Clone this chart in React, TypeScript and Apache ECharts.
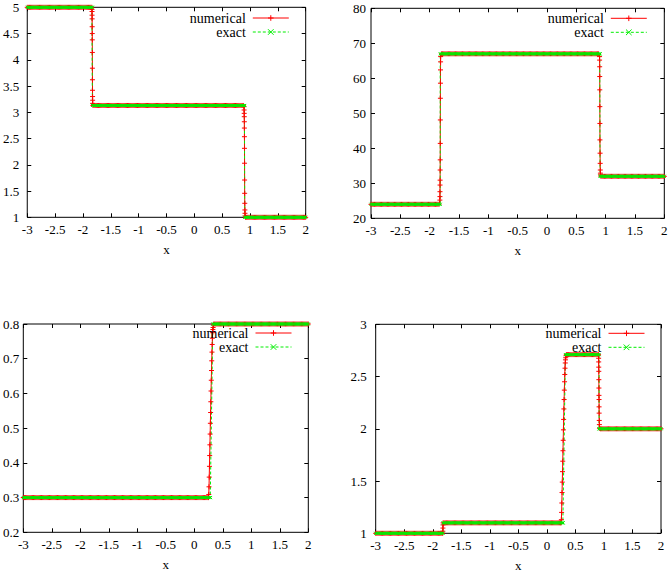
import React, { useEffect, useRef } from "react";
import * as echarts from "echarts";

type Pt = [number, number];

// ---------- axis ranges ----------
const X_MIN = -3;
const X_MAX = 2;
const X_STEP = 0.5;
const MARKER_SPACING = 0.02; // spacing of the plotted mesh markers on the flat states

const Y_MIN = [1, 20, 0.2, 1];
const Y_MAX = [5, 80, 0.8, 3];
const Y_STEP = [0.5, 10, 0.1, 0.5];

const SERIES_NAMES = ["numerical", "exact"];
const AXIS_NAME = "x";

// ---------- panel 1 ----------
const p1States = [5, 3.13, 1];
const p1NumFronts: Pt[][] = [
  [
    [-1.838, 4.96], [-1.837, 4.92], [-1.836, 4.85], [-1.835, 4.78], [-1.834, 4.63],
    [-1.833, 4.5], [-1.832, 4.38], [-1.831, 4.14], [-1.83, 3.84], [-1.829, 3.62],
    [-1.828, 3.42], [-1.827, 3.3], [-1.826, 3.23], [-1.825, 3.17],
  ],
  [
    [0.892, 3.107], [0.894, 3.044], [0.896, 2.98], [0.897, 2.916], [0.898, 2.82],
    [0.899, 2.7], [0.9, 2.535], [0.901, 2.314], [0.902, 2.03], [0.903, 1.71],
    [0.904, 1.457], [0.906, 1.267], [0.908, 1.14], [0.91, 1.076], [0.912, 1.025],
  ],
];
const p1ExactFronts: Pt[][] = [
  [[-1.83, 5], [-1.83, 3.13]],
  [[0.905, 3.13], [0.905, 1]],
];

// ---------- panel 2 ----------
const p2States = [24, 67, 32];
const p2NumFronts: Pt[][] = [
  [
    [-1.826, 25.2], [-1.825, 26.2], [-1.824, 27.6], [-1.823, 29.5], [-1.822, 30.9],
    [-1.821, 33.8], [-1.82, 36.7], [-1.819, 41.4], [-1.818, 48.1], [-1.817, 54.3],
    [-1.816, 58.6], [-1.815, 62.4], [-1.814, 64.7], [-1.813, 66.2],
  ],
  [
    [0.896, 66.2], [0.897, 65.2], [0.898, 63.3], [0.899, 60.5], [0.9, 56.7],
    [0.901, 51.9], [0.902, 47.1], [0.903, 42.4], [0.905, 38.6], [0.907, 35.7],
    [0.909, 33.8], [0.911, 32.9], [0.913, 32.4],
  ],
];
const p2ExactFronts: Pt[][] = [
  [[-1.82, 24], [-1.82, 67]],
  [[0.905, 67], [0.905, 32]],
];

// ---------- panel 3 ----------
const p3States = [0.3, 0.8];
const p3NumFronts: Pt[][] = [
  [
    [0.25, 0.3], [0.254, 0.309], [0.258, 0.331], [0.262, 0.359], [0.266, 0.39],
    [0.27, 0.421], [0.274, 0.452], [0.278, 0.483], [0.282, 0.514], [0.286, 0.545],
    [0.29, 0.576], [0.294, 0.607], [0.298, 0.638], [0.302, 0.666], [0.306, 0.694],
    [0.31, 0.719], [0.314, 0.741], [0.318, 0.759], [0.322, 0.775], [0.326, 0.784],
    [0.33, 0.79], [0.336, 0.797], [0.342, 0.8],
  ],
];
const p3ExactFronts: Pt[][] = [
  [[0.285, 0.3], [0.325, 0.8]],
];

// ---------- panel 4 ----------
const p4States = [1, 1.1, 2.71, 2];
const p4NumFronts: Pt[][] = [
  [[-1.826, 1.0], [-1.824, 1.02], [-1.822, 1.05], [-1.82, 1.08], [-1.818, 1.1]],
  [
    [0.25, 1.1], [0.254, 1.13], [0.258, 1.2], [0.262, 1.29], [0.266, 1.39],
    [0.27, 1.49], [0.274, 1.59], [0.278, 1.69], [0.282, 1.79], [0.286, 1.89],
    [0.29, 1.99], [0.294, 2.09], [0.298, 2.19], [0.302, 2.28], [0.306, 2.37],
    [0.31, 2.45], [0.314, 2.52], [0.318, 2.58], [0.322, 2.63], [0.326, 2.66],
    [0.33, 2.68], [0.336, 2.7], [0.342, 2.71],
  ],
  [
    [0.906, 2.706], [0.907, 2.675], [0.908, 2.64], [0.909, 2.59], [0.91, 2.55],
    [0.911, 2.47], [0.912, 2.39], [0.913, 2.32], [0.914, 2.28], [0.915, 2.21],
    [0.916, 2.15], [0.918, 2.08], [0.92, 2.04], [0.922, 2.005],
  ],
];
const p4ExactFronts: Pt[][] = [
  [[-1.82, 1], [-1.82, 1.1]],
  [[0.285, 1.1], [0.325, 2.71]],
  [[0.915, 2.71], [0.915, 2]],
];

const PANELS = [
  { states: p1States, num: p1NumFronts, exact: p1ExactFronts },
  { states: p2States, num: p2NumFronts, exact: p2ExactFronts },
  { states: p3States, num: p3NumFronts, exact: p3ExactFronts },
  { states: p4States, num: p4NumFronts, exact: p4ExactFronts },
];

// ---------- layout ----------
const GRIDS = [
  { left: 20.7, top: 7.3, width: 285, height: 210 },
  { left: 371, top: 8.3, width: 293.3, height: 210 },
  { left: 23.3, top: 324, width: 285, height: 208.3 },
  { left: 375.7, top: 324.3, width: 285.3, height: 209 },
];
const Y_LABEL_MARGIN = [8, 5, 4, 9];
const LEGEND_POS = [
  { right: 382.7, top: 11 },
  { right: 24.7, top: 11.3 },
  { right: 380, top: 326 },
  { right: 27, top: 326.3 },
];

const FONT = "Liberation Serif";
const RED = "#ff0000";
const GREEN = "#00ee00";
const PLUS = "path://M0,2.5L5,2.5M2.5,0L2.5,5";
const CROSS = "path://M0,0L5,5M5,0L0,5";

const meshX: number[] = [];
for (let k = 0; k <= Math.round((X_MAX - X_MIN) / MARKER_SPACING); k++) {
  meshX.push(+(X_MIN + k * MARKER_SPACING).toFixed(4));
}

function buildProfile(states: number[], fronts: Pt[][]): Pt[] {
  const out: Pt[] = [];
  states.forEach((v, i) => {
    const lo = i === 0 ? -Infinity : fronts[i - 1][fronts[i - 1].length - 1][0];
    const hi = i === states.length - 1 ? Infinity : fronts[i][0][0];
    meshX.forEach((x) => {
      if (x > lo && x < hi) out.push([x, v]);
    });
    if (i < fronts.length) fronts[i].forEach((p) => out.push(p));
  });
  return out;
}

const fmt = (v: number) => String(parseFloat(v.toFixed(3)));

function buildOption() {
  const grid: any[] = [];
  const xAxis: any[] = [];
  const yAxis: any[] = [];
  const series: any[] = [];
  const legend: any[] = [];

  GRIDS.forEach((g, i) => {
    grid.push({ ...g, show: true, borderColor: "#000", borderWidth: 1, backgroundColor: "transparent" });
    const tick = { show: true, inside: true, length: 4, lineStyle: { color: "#000", width: 1 } };
    const line = { show: false, onZero: false };
    xAxis.push({
      type: "value", gridIndex: i, position: "bottom",
      min: X_MIN, max: X_MAX, interval: X_STEP,
      name: AXIS_NAME, nameLocation: "middle", nameGap: 26,
      nameTextStyle: { fontFamily: FONT, fontSize: 13, color: "#000" },
      axisLine: line, axisTick: tick, splitLine: { show: false },
      axisLabel: { margin: 6, fontFamily: FONT, fontSize: 13, color: "#000", formatter: fmt },
    });
    xAxis.push({
      type: "value", gridIndex: i, position: "top",
      min: X_MIN, max: X_MAX, interval: X_STEP,
      axisLine: line, axisTick: tick, splitLine: { show: false },
      axisLabel: { show: false },
    });
    yAxis.push({
      type: "value", gridIndex: i, position: "left",
      min: Y_MIN[i], max: Y_MAX[i], interval: Y_STEP[i],
      axisLine: line, axisTick: tick, splitLine: { show: false },
      axisLabel: { margin: Y_LABEL_MARGIN[i], fontFamily: FONT, fontSize: 13, color: "#000", formatter: fmt },
    });
    yAxis.push({
      type: "value", gridIndex: i, position: "right",
      min: Y_MIN[i], max: Y_MAX[i], interval: Y_STEP[i],
      axisLine: line, axisTick: tick, splitLine: { show: false },
      axisLabel: { show: false },
    });

    const p = PANELS[i];
    series.push({
      type: "line", name: SERIES_NAMES[0], xAxisIndex: 2 * i, yAxisIndex: 2 * i,
      data: buildProfile(p.states, p.num), clip: false,
      symbol: PLUS, symbolSize: 5, showSymbol: true,
      lineStyle: { color: RED, width: 1 },
      itemStyle: { color: RED, borderColor: RED, borderWidth: 1 },
      emphasis: { disabled: true },
    });
    series.push({
      type: "line", name: SERIES_NAMES[1], xAxisIndex: 2 * i, yAxisIndex: 2 * i,
      data: buildProfile(p.states, p.exact), clip: false,
      symbol: CROSS, symbolSize: 3, showSymbol: true,
      lineStyle: { color: GREEN, width: 1, type: [3, 2] },
      itemStyle: { color: GREEN, borderColor: GREEN, borderWidth: 1 },
      emphasis: { disabled: true },
    });

    legend.push({
      orient: "vertical", align: "right", ...LEGEND_POS[i],
      itemWidth: 36, itemHeight: 7, itemGap: 0, padding: 0,
      selectedMode: false,
      data: SERIES_NAMES,
      textStyle: { fontFamily: FONT, fontSize: 14, color: "#000", lineHeight: 14, padding: [0, 2, 0, 0] },
      lineStyle: { width: 1 },
      itemStyle: { borderWidth: 1 },
    });
  });

  return {
    animation: false,
    backgroundColor: "#fff",
    grid, xAxis, yAxis, series, legend,
  };
}

export default function App() {
  const ref = useRef<HTMLDivElement>(null);
  useEffect(() => {
    if (!ref.current) return;
    const chart = echarts.init(ref.current, undefined, { renderer: "svg" });
    chart.setOption(buildOption() as any);
    return () => chart.dispose();
  }, []);
  return (
    <div
      ref={ref}
      style={{ position: "absolute", left: 0, top: 0, width: 672, height: 579 }}
    />
  );
}
